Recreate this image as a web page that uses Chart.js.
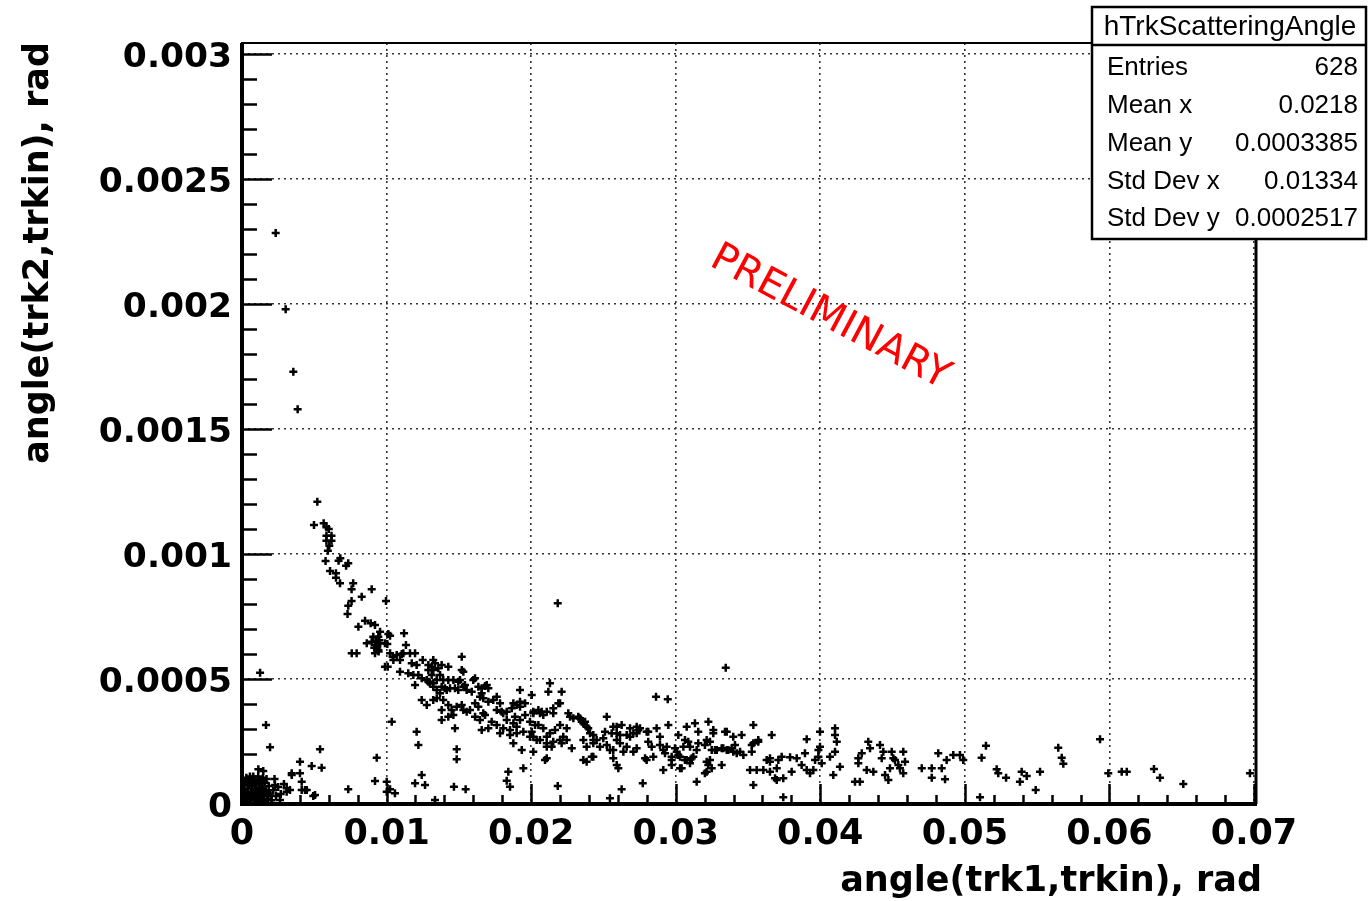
<!DOCTYPE html>
<html>
<head>
<meta charset="utf-8">
<script src="https://cdn.jsdelivr.net/npm/chart.js@4.4.1/dist/chart.umd.min.js"></script>
<style>
  html, body { margin: 0; padding: 0; background: #fff; }
  canvas { display: block; }
</style>
</head>
<body>
<canvas id="chart" width="1368" height="901"></canvas>
<script>
// angle(trk1,trkin) vs angle(trk2,trkin), both in rad as [x, y]
const outliers = [
  [0.00233,0.002284],[0.00302,0.001979],[0.00355,0.001729],[0.00385,0.001579],
  [0.02184,0.000803],[0.03346,0.000545],[0.00125,0.000525]
];

const steepBand = [
  [0.00521,0.001209],[0.00498,0.001116],[0.00565,0.001123],[0.00584,0.001107],[0.00600,0.001100],
  [0.00584,0.001073],[0.00619,0.001073],[0.00584,0.001053],[0.00619,0.001053],[0.00604,0.001033],
  [0.00594,0.001013],[0.00680,0.000983],[0.00668,0.000973],[0.00735,0.000963],[0.00720,0.000953],
  [0.00578,0.000972],[0.00609,0.000932],[0.00650,0.000923],[0.00650,0.000905],[0.00678,0.000883],
  [0.00769,0.000883],[0.00758,0.000859],[0.00897,0.000859],[0.00828,0.000829],[0.00758,0.000812],
  [0.00735,0.000793],[0.00730,0.000760],[0.00996,0.000812],
  [0.00851,0.000733],[0.00890,0.000723],[0.00920,0.000716],[0.00805,0.000709],
  [0.00955,0.000689],[0.00943,0.000669],[0.00908,0.000669],[0.01012,0.000680],[0.01024,0.000673],[0.01121,0.000683],
  [0.00863,0.000643],[0.00897,0.000649],[0.00920,0.000636],[0.00932,0.000623],[0.00955,0.000643],
  [0.00989,0.000643],[0.01005,0.000640],[0.01134,0.000636],
  [0.00925,0.000650],[0.00935,0.000630],[0.00945,0.000610],[0.00915,0.000625],[0.00950,0.000655],
  [0.00920,0.000603],[0.00943,0.000616],[0.00759,0.000603],[0.00793,0.000603],
  [0.01024,0.000603],[0.01042,0.000589],[0.01070,0.000596],[0.01105,0.000600],[0.01162,0.000603],
  [0.01197,0.000603],[0.01116,0.000603],[0.01047,0.000576],[0.01093,0.000576],
  [0.01008,0.000549],[0.00989,0.000549],[0.01174,0.000563],[0.01208,0.000556],[0.01250,0.000576],[0.01323,0.000576],
  [0.01093,0.000529],[0.01150,0.000523],[0.01185,0.000516],[0.01220,0.000516],[0.01289,0.000536],[0.01312,0.000516],
  [0.01197,0.000476],[0.01289,0.000489],[0.01323,0.000483],
  [0.01289,0.000556],[0.01312,0.000549],[0.01323,0.000536],[0.01335,0.000563],
  [0.01278,0.000496],[0.01300,0.000483],[0.01323,0.000469],[0.01243,0.000503],
  [0.01243,0.000416],[0.01278,0.000396],[0.01323,0.000416]
];

const midBand = [
  [0.01358,0.000543],[0.01370,0.000516],[0.01381,0.000556],[0.01427,0.000549],[0.01520,0.000589],
  [0.01520,0.000536],[0.01531,0.000529],
  [0.01347,0.000456],[0.01370,0.000443],[0.01392,0.000496],[0.01427,0.000496],[0.01462,0.000496],
  [0.01496,0.000489],[0.01347,0.000496],[0.01381,0.000469],[0.01416,0.000456],[0.01508,0.000496],
  [0.01531,0.000469],[0.01600,0.000496],
  [0.01404,0.000463],[0.01439,0.000463],[0.01473,0.000463],[0.01496,0.000456],
  [0.01542,0.000476],[0.01554,0.000456],[0.01589,0.000449],[0.01612,0.000503],[0.01635,0.000469],
  [0.01658,0.000463],[0.01693,0.000476],[0.01681,0.000472],[0.01704,0.000463],
  [0.01347,0.000423],[0.01381,0.000376],[0.01427,0.000349],[0.01381,0.000336],[0.01462,0.000356],
  [0.01392,0.000416],[0.01427,0.000396],[0.01450,0.000376],[0.01531,0.000376],[0.01669,0.000363],
  [0.01485,0.000389],[0.01520,0.000396],[0.01554,0.000369],[0.01577,0.000376],[0.01612,0.000403],[0.01635,0.000389],
  [0.01658,0.000443],[0.01669,0.000423],[0.01704,0.000409],[0.01738,0.000416],[0.01762,0.000429],
  [0.01785,0.000403],[0.01646,0.000429],
  [0.01612,0.000349],[0.01646,0.000336],[0.01681,0.000356],[0.01727,0.000329],[0.01762,0.000316],
  [0.01658,0.000296],[0.01704,0.000303],[0.01473,0.000303],
  [0.01796,0.000369],[0.01831,0.000369],[0.01866,0.000383],[0.01900,0.000396],[0.01923,0.000409],
  [0.01958,0.000403],[0.01877,0.000403],[0.01923,0.000389],
  [0.01923,0.000456],[0.02004,0.000436],[0.02130,0.000483],[0.02211,0.000449],[0.02119,0.000449],
  [0.02188,0.000403],[0.02200,0.000403],
  [0.01888,0.000349],[0.01923,0.000336],[0.01958,0.000356],[0.01992,0.000329],[0.02027,0.000316],
  [0.01762,0.000376],[0.01807,0.000363],[0.01831,0.000336],[0.01877,0.000323],[0.01900,0.000309],
  [0.01785,0.000283],[0.01854,0.000276],[0.01877,0.000243],
  [0.01807,0.000303],[0.01854,0.000296],[0.01900,0.000283],[0.01946,0.000289],[0.01992,0.000269],[0.02038,0.000256],
  [0.02015,0.000369],[0.02050,0.000376],[0.02073,0.000369],[0.02108,0.000369],[0.02153,0.000383],
  [0.02015,0.000363],[0.02061,0.000363],[0.02084,0.000356],
  [0.02153,0.000363],[0.02257,0.000363],[0.02292,0.000343],[0.02269,0.000349],
  [0.02050,0.000316],[0.02084,0.000303],[0.02130,0.000283],[0.02165,0.000296],[0.02200,0.000316],[0.02246,0.000303],
  [0.02004,0.000289],[0.02015,0.000269],[0.02061,0.000256],[0.02108,0.000243],[0.02153,0.000249],
  [0.02200,0.000256],[0.02108,0.000269],[0.02222,0.000269],[0.02246,0.000256],[0.02211,0.000243],[0.02142,0.000229],
  [0.02338,0.000343],[0.02361,0.000323],[0.02395,0.000303],[0.02430,0.000276],[0.02453,0.000256],
  [0.02326,0.000349],[0.02350,0.000329],[0.02384,0.000309],[0.02407,0.000283],[0.02373,0.000329],
  [0.01935,0.000216],[0.02015,0.000209],[0.02108,0.000229],[0.02281,0.000223],[0.02384,0.000229],
  [0.02419,0.000189],[0.02361,0.000256],[0.02430,0.000243],[0.02476,0.000229],[0.02430,0.000256],
  [0.02361,0.000176],[0.02384,0.000169],[0.02430,0.000189],[0.02108,0.000183],[0.02096,0.000176],
  [0.01946,0.000143],[0.01842,0.000129]
];

const flatTail = [
  [0.02523,0.000349],[0.02592,0.000309],[0.02626,0.000316],[0.02730,0.000309],[0.02753,0.000303],
  [0.02568,0.000309],[0.02684,0.000303],[0.02741,0.000296],
  [0.02511,0.000289],[0.02557,0.000283],[0.02615,0.000276],[0.02684,0.000269],[0.02730,0.000283],
  [0.02810,0.000289],[0.02592,0.000283],[0.02661,0.000276],[0.02707,0.000283],[0.02799,0.000289],
  [0.02868,0.000303],[0.02949,0.000316],[0.02891,0.000269],[0.02864,0.000429],[0.02945,0.000419],
  [0.02523,0.000236],[0.02568,0.000216],[0.02615,0.000243],[0.02499,0.000263],[0.02545,0.000216],
  [0.02592,0.000256],[0.02638,0.000209],[0.02730,0.000223],
  [0.02661,0.000229],[0.02707,0.000209],[0.02799,0.000176],[0.02845,0.000189],[0.02926,0.000203],
  [0.02972,0.000176],[0.03007,0.000209],[0.03053,0.000229],
  [0.02810,0.000249],[0.02834,0.000229],[0.02891,0.000236],[0.02914,0.000216],[0.02938,0.000229],
  [0.02995,0.000223],[0.02972,0.000189],[0.03018,0.000196],
  [0.03076,0.000309],[0.03133,0.000323],[0.03226,0.000329],[0.03260,0.000283],[0.03353,0.000289],
  [0.03398,0.000269],[0.03456,0.000276],[0.03156,0.000289],[0.03260,0.000296],[0.03341,0.000289],
  [0.03018,0.000276],[0.03064,0.000256],
  [0.03156,0.000243],[0.03214,0.000256],[0.03272,0.000216],[0.03329,0.000223],[0.03364,0.000216],
  [0.03422,0.000203],[0.03468,0.000196],
  [0.03087,0.000249],[0.03099,0.000229],[0.03145,0.000216],[0.03202,0.000236],[0.03237,0.000249],
  [0.03249,0.000216],[0.03284,0.000216],[0.03318,0.000223],[0.03353,0.000216],[0.03387,0.000223],
  [0.03410,0.000236],[0.03398,0.000209],[0.03445,0.000209],
  [0.03030,0.000189],[0.03076,0.000176],[0.03122,0.000189],[0.03237,0.000176],[0.03225,0.000156],
  [0.03214,0.000129],[0.03318,0.000156],[0.03064,0.000176],[0.03111,0.000183],[0.03099,0.000163],
  [0.03214,0.000169],[0.03249,0.000143],[0.03202,0.000123],
  [0.02568,0.000183],[0.02592,0.000156],[0.02603,0.000143],[0.02788,0.000183],[0.02914,0.000136],
  [0.02972,0.000156],[0.03030,0.000143],[0.03041,0.000143],
  [0.03537,0.000316],[0.03571,0.000256],[0.03526,0.000236],[0.03664,0.000276],[0.03537,0.000243],
  [0.03571,0.000249],[0.03526,0.000209],
  [0.03514,0.000136],[0.03560,0.000136],[0.03606,0.000136],[0.03629,0.000176],[0.03652,0.000169],
  [0.03699,0.000096],[0.03652,0.000129],
  [0.03652,0.000183],[0.03710,0.000176],[0.03699,0.000143],[0.03744,0.000103],[0.03687,0.000103],
  [0.03733,0.000189],[0.03791,0.000187],[0.03837,0.000183],[0.03871,0.000156],[0.03894,0.000203],
  [0.03906,0.000259],[0.03802,0.000129],
  [0.03906,0.000136],[0.03929,0.000123],[0.03952,0.000136],[0.03964,0.000176],[0.03987,0.000216],
  [0.03998,0.000289],[0.03998,0.000229],[0.03987,0.000189],[0.04010,0.000163],
  [0.04067,0.000189],[0.04090,0.000116],[0.04102,0.000303],[0.04102,0.000276],[0.04114,0.000249],
  [0.04102,0.000209],[0.04136,0.000149],
  [0.04240,0.000089],[0.04274,0.000089],[0.04263,0.000183],[0.04263,0.000163],[0.04287,0.000203],
  [0.04321,0.000136],[0.04332,0.000249],[0.04344,0.000223],
  [0.04367,0.000129],[0.04413,0.000236],[0.04436,0.000209],[0.04425,0.000183],[0.04448,0.000116],
  [0.04471,0.000096],[0.04482,0.000143],[0.04494,0.000209],[0.04505,0.000183],[0.04517,0.000176],
  [0.04540,0.000156],[0.04551,0.000143],[0.04574,0.000209],[0.04586,0.000169],[0.04574,0.000123],
  [0.04702,0.000143],[0.04771,0.000143],[0.04771,0.000105],[0.04816,0.000203],[0.04840,0.000143],
  [0.04863,0.000099],[0.04874,0.000176],[0.04920,0.000196],[0.04966,0.000196],[0.04989,0.000176],
  [0.05116,0.000185],[0.05146,0.000233],[0.05220,0.000139],[0.05231,0.000123],[0.05285,0.000105],
  [0.05381,0.000089],[0.05393,0.000129],[0.05428,0.000112],[0.05520,0.000129],[0.05490,0.000056],
  [0.05646,0.000225],[0.05670,0.000185],[0.05681,0.000161],[0.05935,0.000259],[0.05992,0.000123],
  [0.06085,0.000129],[0.06120,0.000129],[0.06308,0.000140],[0.06350,0.000105],[0.06511,0.000080],
  [0.06972,0.000123],[0.05105,0.000027],[0.03744,0.000027]
];

const lowScatter = [
  [0.00166,0.000316],[0.00194,0.000227],[0.00540,0.000219],[0.00401,0.000169],[0.00482,0.000152],
  [0.00551,0.000145],[0.00113,0.000139],[0.00147,0.000132],[0.00344,0.000123],[0.00344,0.000116],
  [0.00401,0.000123],[0.00413,0.000089],[0.00436,0.000056],[0.00413,0.000056],[0.00448,0.000056],
  [0.00332,0.000056],[0.00309,0.000049],[0.00493,0.000032],[0.00263,0.000016],[0.00735,0.000059],
  [0.00228,0.000076],[0.00235,0.000032],[0.00309,0.000063],[0.00505,0.000036],
  [0.00932,0.000185],[0.01036,0.000329],[0.00920,0.000092],[0.01024,0.000059],[0.01058,0.000043],
  [0.01001,0.000089],[0.01001,0.000049],
  [0.01208,0.000289],[0.01220,0.000236],[0.01243,0.000116],[0.01266,0.000076],[0.01197,0.000083],[0.01335,0.000016],
  [0.01485,0.000219],[0.01485,0.000179],[0.01466,0.000069],[0.01547,0.000059],
  [0.01831,0.000093],[0.01854,0.000069],[0.02184,0.000072],[0.02545,0.000023],[0.02626,0.000059],
  [0.02772,0.000083],[0.03145,0.000089],[0.03537,0.000076]
];

const originCluster = [
  [0.00010,0.000012],[0.00018,0.000028],[0.00025,0.000045],[0.00032,0.000018],[0.00040,0.000062],
  [0.00046,0.000035],[0.00052,0.000085],[0.00058,0.000020],[0.00064,0.000050],[0.00070,0.000072],
  [0.00076,0.000030],[0.00082,0.000098],[0.00088,0.000055],[0.00094,0.000015],[0.00100,0.000080],
  [0.00106,0.000040],[0.00112,0.000110],[0.00118,0.000062],[0.00124,0.000025],[0.00130,0.000090],
  [0.00136,0.000048],[0.00142,0.000070],[0.00150,0.000032],[0.00158,0.000085],[0.00166,0.000055],
  [0.00175,0.000020],[0.00185,0.000072],[0.00195,0.000042],[0.00020,0.000090],[0.00030,0.000105],
  [0.00038,0.000008],[0.00055,0.000110],[0.00062,0.000005],[0.00072,0.000042],[0.00085,0.000025],
  [0.00098,0.000060],[0.00110,0.000010],[0.00120,0.000095],[0.00135,0.000015],[0.00145,0.000105],
  [0.00160,0.000010],[0.00012,0.000060],[0.00048,0.000075],[0.00068,0.000095],[0.00090,0.000082],
  [0.00104,0.000028],[0.00128,0.000045],[0.00170,0.000100],[0.00180,0.000040],[0.00205,0.000015],
  [0.00215,0.000055],[0.00225,0.000100],[0.00250,0.000068],[0.00268,0.000040],[0.00290,0.000080],
  [0.00015,0.000075],[0.00044,0.000095],[0.00078,0.000110],[0.00092,0.000035],[0.00140,0.000062]
];

// axis ranges and ticks
const xRange = [0, 0.07];
const yRange = [0, 0.003044];
const xMajorStep = 0.01;
const yMajorStep = 0.0005;

// stats box
const histName = 'hTrkScatteringAngle';
const statsLabels = ['Entries', 'Mean x', 'Mean y', 'Std Dev x', 'Std Dev y'];
const statsValues = ['628', '0.0218', '0.0003385', '0.01334', '0.0002517'];

const xTitle = 'angle(trk1,trkin), rad';
const yTitle = 'angle(trk2,trkin), rad';
const watermark = 'PRELIMINARY';

const points = [].concat(outliers, steepBand, midBand, flatTail, lowScatter, originCluster)
  .map(([x, y]) => ({ x, y }));

const fmt = (v) => String(Number(v.toFixed(5)));

const rootStyle = {
  id: 'rootStyle',
  beforeDraw(chart) {
    const { ctx, width, height } = chart;
    ctx.save();
    ctx.fillStyle = '#fff';
    ctx.fillRect(0, 0, width, height);
    ctx.restore();
  },
  afterDatasetsDraw(chart) {
    const {
      ctx,
      chartArea: { left, right, top, bottom },
      scales: { x, y },
    } = chart;
    ctx.save();
    ctx.strokeStyle = '#000';

    // frame
    ctx.lineWidth = 2;
    ctx.strokeRect(left, top, right + 2 - left, bottom - top);
    ctx.lineWidth = 3;
    ctx.beginPath();
    ctx.moveTo(right + 2, top);
    ctx.lineTo(right + 2, bottom);
    ctx.stroke();

    // axes
    ctx.lineWidth = 4;
    ctx.beginPath();
    ctx.moveTo(left, top);
    ctx.lineTo(left, bottom);
    ctx.lineTo(right + 3, bottom);
    ctx.stroke();

    // ticks inside the frame
    ctx.lineWidth = 2.5;
    ctx.beginPath();
    for (let i = 0; i <= 30; i++) {
      const py = Math.round(y.getPixelForValue(i * yMajorStep / 5)) + 0.5;
      const len = i % 5 === 0 ? 30 : 15;
      ctx.moveTo(left, py);
      ctx.lineTo(left + len, py);
    }
    for (let i = 0; i <= 35; i++) {
      const px = Math.round(x.getPixelForValue(i * xMajorStep / 5)) + 0.5;
      const len = i % 5 === 0 ? 20 : 9;
      ctx.moveTo(px, bottom);
      ctx.lineTo(px, bottom - len);
    }
    ctx.stroke();
    ctx.restore();
  },
  afterDraw(chart) {
    const { ctx, chartArea: { right } } = chart;
    ctx.save();

    // axis titles
    ctx.fillStyle = '#000';
    ctx.font = 'bold 35px "DejaVu Sans"';
    ctx.textBaseline = 'middle';
    ctx.textAlign = 'right';
    ctx.fillText(xTitle, right + 8, 882);

    ctx.save();
    ctx.translate(39, 42);
    ctx.rotate(-Math.PI / 2);
    ctx.fillText(yTitle, 0, 0);
    ctx.restore();

    // watermark
    ctx.save();
    ctx.translate(830, 318);
    ctx.rotate(28 * Math.PI / 180);
    ctx.fillStyle = '#ff0000';
    ctx.font = '40px "DejaVu Sans"';
    ctx.textAlign = 'center';
    ctx.fillText(watermark, 0, 0);
    ctx.restore();

    // stats box
    const bx = 1092, by = 7, bw = 274, bh = 232;
    ctx.fillStyle = '#fff';
    ctx.fillRect(bx, by, bw, bh);
    ctx.strokeStyle = '#000';
    ctx.lineWidth = 2.5;
    ctx.strokeRect(bx, by, bw, bh);
    ctx.beginPath();
    ctx.moveTo(bx, 45);
    ctx.lineTo(bx + bw, 45);
    ctx.stroke();

    ctx.fillStyle = '#000';
    ctx.font = '28px "Liberation Sans"';
    ctx.textAlign = 'center';
    ctx.fillText(histName, bx + bw / 2 + 1, 27);
    ctx.font = '26px "Liberation Sans"';
    statsLabels.forEach((label, i) => {
      const ty = 68 + i * 37.8;
      ctx.textAlign = 'left';
      ctx.fillText(label, 1107, ty);
      ctx.textAlign = 'right';
      ctx.fillText(statsValues[i], 1358, ty);
    });
    ctx.restore();
  },
};

new Chart(document.getElementById('chart'), {
  type: 'scatter',
  data: {
    datasets: [
      {
        label: histName,
        data: points,
        pointStyle: 'cross',
        pointRadius: 4,
        pointHoverRadius: 4,
        borderColor: '#000',
        backgroundColor: '#000',
        borderWidth: 2.5,
      },
    ],
  },
  options: {
    responsive: false,
    animation: false,
    events: [],
    layout: { padding: { top: 43, right: 114, left: 0, bottom: 0 } },
    plugins: {
      legend: { display: false },
      tooltip: { enabled: false },
    },
    scales: {
      x: {
        type: 'linear',
        min: xRange[0],
        max: xRange[1],
        afterFit(scale) { scale.height = 97; },
        border: { display: false, dash: [2, 4] },
        grid: { color: '#333', lineWidth: 1.6, drawTicks: false },
        ticks: {
          stepSize: xMajorStep,
          includeBounds: false,
          autoSkip: false,
          maxRotation: 0,
          padding: 10,
          color: '#000',
          font: { family: 'DejaVu Sans', weight: 'bold', size: 35 },
          callback: (v) => fmt(v),
        },
      },
      y: {
        type: 'linear',
        min: yRange[0],
        max: yRange[1],
        afterFit(scale) { scale.width = 242; },
        border: { display: false, dash: [2, 4] },
        grid: { color: '#333', lineWidth: 1.6, drawTicks: false },
        ticks: {
          stepSize: yMajorStep,
          includeBounds: false,
          autoSkip: false,
          padding: 10,
          labelOffset: 4,
          color: '#000',
          font: { family: 'DejaVu Sans', weight: 'bold', size: 34.5 },
          callback: (v) => fmt(v),
        },
      },
    },
  },
  plugins: [rootStyle],
});
</script>
</body>
</html>
